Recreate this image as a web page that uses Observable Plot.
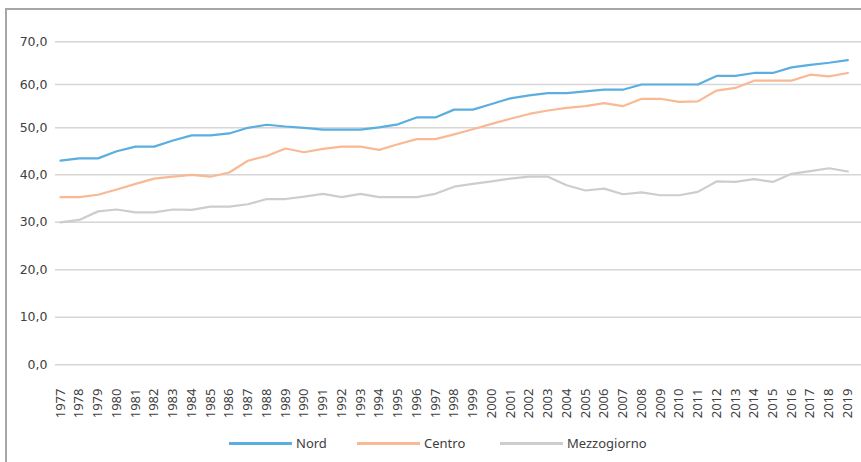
<!DOCTYPE html>
<html>
<head>
<meta charset="utf-8">
<script src="https://cdn.jsdelivr.net/npm/d3@7"></script>
<script src="https://cdn.jsdelivr.net/npm/@observablehq/plot@0.6"></script>
<style>
  html, body { margin: 0; padding: 0; background: #fff; }
  #wrap { position: relative; width: 861px; height: 462px; overflow: hidden; background: #fff; }
  #chart { position: absolute; left: 0; top: 0; }
  #frame { position: absolute; left: 5px; top: 8px; width: 900px; height: 500px;
           border-left: 2px solid #a6a6a6; border-top: 2px solid #a6a6a6; pointer-events: none; z-index: 2; }
  #legend { position: absolute; top: 433px; left: 0; width: 861px; height: 20px;
            font-family: "Noto Sans", sans-serif; font-size: 13px; color: #404040; }
  .item { position: absolute; top: 0; height: 20px; display: flex; align-items: center; white-space: nowrap; }
  .sw { width: 63px; height: 3px; margin-right: 4px; }
</style>
</head>
<body>
<div id="wrap">
  <div id="chart"></div>
  <div id="legend"></div>
  <div id="frame"></div>
</div>
<script>
const years = [1977,1978,1979,1980,1981,1982,1983,1984,1985,1986,
               1987,1988,1989,1990,1991,1992,1993,1994,1995,1996,
               1997,1998,1999,2000,2001,2002,2003,2004,2005,2006,
               2007,2008,2009,2010,2011,2012,2013,2014,2015,2016,
               2017,2018,2019];

const nord = [43.0,43.5,43.5,45.0,46.0,46.0,47.3,48.4,48.4,48.8,
              50.0,50.7,50.3,50.0,49.6,49.6,49.6,50.1,50.8,52.4,
              52.4,54.2,54.2,55.5,56.8,57.5,58.0,58.0,58.4,58.8,
              58.8,60.0,60.0,60.0,60.0,62.0,62.0,62.7,62.7,64.0,
              64.6,65.1,65.7];

const centro = [35.3,35.3,35.8,36.9,38.1,39.2,39.6,40.0,39.6,40.5,
                43.0,44.0,45.6,44.8,45.5,46.0,46.0,45.3,46.5,47.6,
                47.6,48.6,49.7,50.9,52.1,53.2,54.0,54.6,55.0,55.7,
                55.0,56.7,56.7,56.0,56.1,58.6,59.2,60.9,60.9,60.9,
                62.3,61.9,62.7];

const mezzogiorno = [30.0,30.5,32.3,32.7,32.1,32.1,32.7,32.6,33.3,33.3,
                     33.8,34.9,34.9,35.4,36.0,35.3,36.0,35.3,35.3,35.3,
                     36.0,37.5,38.1,38.6,39.2,39.6,39.6,37.8,36.7,37.1,
                     35.9,36.3,35.7,35.7,36.4,38.6,38.5,39.1,38.5,40.2,
                     40.8,41.4,40.7];

const seriesNames = ["Nord", "Centro", "Mezzogiorno"];
const seriesColors = ["#5aaee0", "#f8b994", "#cdcdcd"];
const yTicks = [0, 10, 20, 30, 40, 50, 60, 70];

const seriesValues = [nord, centro, mezzogiorno];
const data = [];
seriesNames.forEach((name, s) => {
  years.forEach((year, i) => data.push({series: name, year, value: seriesValues[s][i]}));
});

const fmt = d => d.toFixed(1).replace(".", ",");

// The reference's vertical axis is slightly compressed above 40; reproduce via a piecewise transform.
const yWarp = d3.scaleLinear().domain([0, 40, 50, 60, 70]).range([0, 190, 237, 280.3, 323]);

const chart = Plot.plot({
  width: 861,
  height: 425,
  marginLeft: 55,
  marginRight: 0,
  marginTop: 30,
  marginBottom: 61,
  style: {fontFamily: "DejaVu Sans", fontSize: "12px", color: "#404040", background: "transparent"},
  x: {domain: [1977, 2019], range: [60, 847.3]},
  y: {transform: yWarp, range: [364.3, 41.3], nice: false, zero: false},
  color: {domain: seriesNames, range: seriesColors},
  marks: [
    Plot.ruleY(yTicks, {stroke: "#d6d6d6", strokeWidth: 1.5}),
    Plot.axisY(yTicks, {tickSize: 0, tickPadding: 8, tickFormat: fmt, label: null,
                        fontSize: 12.5, fill: "#404040"}),
    Plot.axisX(years, {tickSize: 0, tickRotate: -90, tickPadding: 24, label: null,
                       tickFormat: d => String(d), fontFamily: "Noto Sans", fontSize: 13, fill: "#404040"}),
    Plot.line(data, {x: "year", y: "value", stroke: "series", z: "series", strokeWidth: 2.2})
  ]
});
document.getElementById("chart").appendChild(chart);

const legend = document.getElementById("legend");
const legendLeft = [229, 357, 500];
seriesNames.forEach((name, i) => {
  const item = document.createElement("div");
  item.className = "item";
  item.style.left = legendLeft[i] + "px";
  const sw = document.createElement("div");
  sw.className = "sw";
  sw.style.background = seriesColors[i];
  const tx = document.createElement("span");
  tx.textContent = name;
  item.appendChild(sw);
  item.appendChild(tx);
  legend.appendChild(item);
});
</script>
</body>
</html>
